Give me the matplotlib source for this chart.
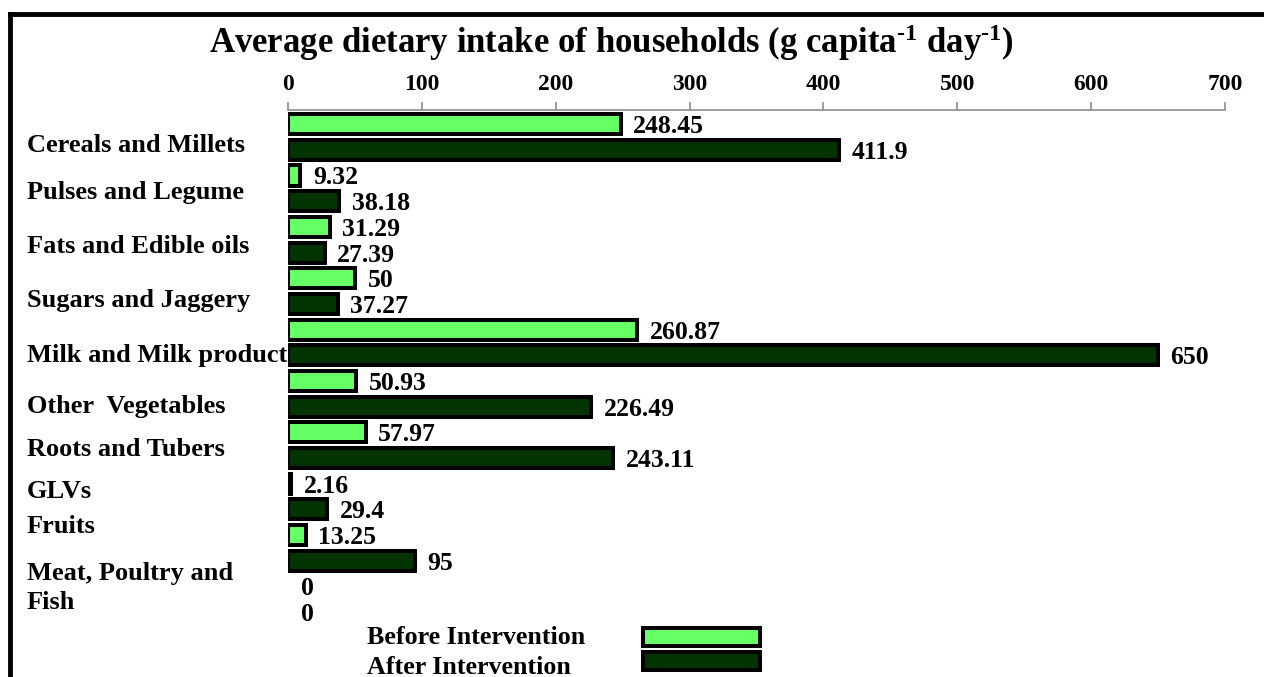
import numpy as np
import matplotlib

matplotlib.use("Agg")
import matplotlib.pyplot as plt
from matplotlib.lines import Line2D
from matplotlib.patches import Rectangle

plt.rcParams.update({
    "font.family": "Liberation Serif",
    "font.weight": "bold",
    "mathtext.fontset": "custom",
    "mathtext.rm": "Liberation Serif:bold",
    "mathtext.bf": "Liberation Serif:bold",
    "mathtext.it": "Liberation Serif:bold",
})

categories = ["Cereals and Millets", "Pulses and Legume", "Fats and Edible oils",
              "Sugars and Jaggery", "Milk and Milk product", "Other  Vegetables",
              "Roots and Tubers", "GLVs", "Fruits", "Meat, Poultry and\nFish"]
before = [248.45, 9.32, 31.29, 50, 260.87, 50.93, 57.97, 2.16, 13.25, 0]
after = [411.9, 38.18, 27.39, 37.27, 650, 226.49, 243.11, 29.4, 95, 0]
xticks = [0, 100, 200, 300, 400, 500, 600, 700]

# where each category name sits, in bar-slot units (the source layout is uneven)
label_slot = [0.82, 2.65, 4.75, 6.85, 9.0, 11.0, 12.65, 14.3, 15.65, 18.05]

LIGHT = "#66ff66"
DARK = "#023302"

fig = plt.figure(figsize=(12.64, 6.77), dpi=100)
ax = fig.add_axes([288 / 1264, 52 / 677, 937 / 1264, 515 / 677])

n = len(categories)
y_before = np.arange(n) * 2
y_after = y_before + 1

for y, vals, col in [(y_before, before, LIGHT), (y_after, after, DARK)]:
    edges = ["black" if v > 0 else "none" for v in vals]
    bars = ax.barh(y, vals, height=0.78, color=col, edgecolor=edges,
                   linewidth=2.9, zorder=3)
    texts = ax.bar_label(bars, labels=[f"{v:g}" for v in vals], padding=9,
                         fontsize=18.5, fontweight="bold", zorder=4)
    for t in texts:
        t.set_va("center_baseline")

ax.set_xlim(0, 700)
ax.set_ylim(19.5, -0.55)
ax.xaxis.tick_top()
ax.set_xticks(xticks)
ax.tick_params(axis="x", colors="#8c8c8c", length=5.5, width=1.2, pad=5,
               labelsize=17, labelcolor="black")
for t in ax.get_xticklabels():
    t.set_fontweight("bold")
ax.set_yticks([])
for side in ["bottom", "left", "right"]:
    ax.spines[side].set_visible(False)
ax.spines["top"].set_color("#8c8c8c")
ax.spines["top"].set_linewidth(1.2)
ax.patch.set_alpha(0)

trans = matplotlib.transforms.blended_transform_factory(fig.transFigure, ax.transData)
for name, s in zip(categories, label_slot):
    ax.text(27 / 1264, s, name, transform=trans, ha="left", va="center",
            fontsize=19, fontweight="bold", linespacing=1.35,
            clip_on=False, zorder=1)

fig.text(611 / 1264, 1 - 43 / 677,
         r"Average dietary intake of households (g capita$^{\text{-1}}$ day$^{\text{-1}}$)",
         ha="center", va="center", fontsize=25, fontweight="bold")

# legend, laid out like the source (labels left, swatches right)
legend_rows = [("Before Intervention", LIGHT, 638, 637),
               ("After Intervention", DARK, 668, 661)]
for lab, col, ty, sy in legend_rows:
    fig.text(367 / 1264, 1 - ty / 677, lab, ha="left", va="center",
             fontsize=18.7, fontweight="bold")
    fig.add_artist(Rectangle((643 / 1264, 1 - (sy + 9) / 677), 117 / 1264, 18 / 677,
                             transform=fig.transFigure, facecolor=col,
                             edgecolor="black", linewidth=2.9))

# outer frame of the original figure (only top and left edges are in view)
fig.add_artist(Line2D([10 / 1264, 1.01], [1 - 14 / 677] * 2,
                      transform=fig.transFigure, color="black", lw=3.5))
fig.add_artist(Line2D([10 / 1264] * 2, [1 - 14 / 677, -0.01],
                      transform=fig.transFigure, color="black", lw=3.5))

fig.savefig("out.png", dpi=100)
